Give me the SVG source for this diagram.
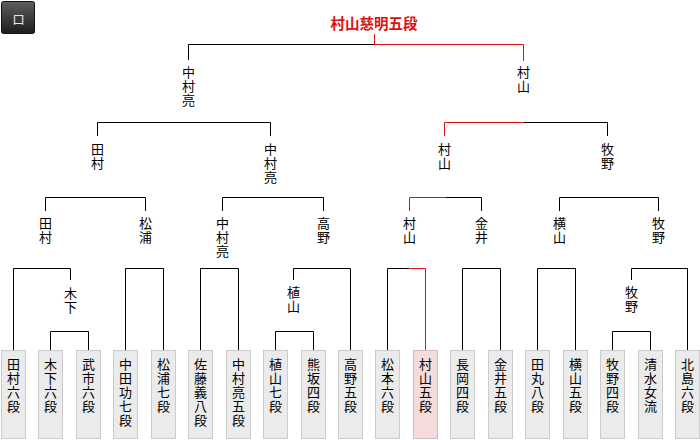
<svg xmlns="http://www.w3.org/2000/svg" width="700" height="440" viewBox="0 0 700 440">
<defs>
<linearGradient id="bg" x1="0" y1="0" x2="0" y2="1">
<stop offset="0" stop-color="#5e5e5e"/>
<stop offset="1" stop-color="#1c1c1c"/>
</linearGradient>
</defs>
<style>
text{font-family:"Noto Sans CJK JP","Noto Sans CJK SC",sans-serif;font-size:13px;fill:#000;text-anchor:middle}
.v{writing-mode:vertical-rl;text-anchor:start;letter-spacing:1px}
.champ{font-size:14.5px;font-weight:bold;fill:#dd1111}
.badge{font-size:13px;fill:#e6e6e6}
.box rect{fill:#ebebeb;stroke:#cccccc;stroke-width:1}
.box.win rect{fill:#f4dcdc;stroke:#ddb9b9}
.ln{fill:none;stroke:#000;stroke-width:1}
.rd{fill:none;stroke:#e01010;stroke-width:1}
</style>
<rect width="700" height="440" fill="#fff"/>
<g id="badge">
<rect x="1.5" y="1.5" width="33" height="32" rx="2" fill="url(#bg)" stroke="#111"/>
<text class="badge" x="18.5" y="23.5">ロ</text>
</g>
<g id="champion"><text class="champ" x="374" y="29">村山慈明五段</text></g>
<g id="connectors">
<path class="ln" d="M188.5 60V44.5H374.5"/>
<path class="rd" d="M374.5 34V44.5H523.5V61"/>
<path class="ln" d="M97.5 136V122.5H270.5V136"/>
<path class="rd" d="M444.5 136V122.5H523.5"/>
<path class="ln" d="M523.5 122.5H607.5V136"/>
<path class="ln" d="M45.5 211V197.5H145.5V211"/>
<path class="ln" d="M222.5 211V197.5H323.5V211"/>
<path class="rd" d="M409.5 211V197.5H445.5"/>
<path class="ln" d="M445.5 197.5H481.5V211"/>
<path class="ln" d="M559.5 211V197.5H658.5V211"/>
<path class="ln" d="M13.5 350V268.5H70.5V280"/>
<path class="ln" d="M125.5 350V268.5H163.5V350"/>
<path class="ln" d="M200.5 350V268.5H238.5V350"/>
<path class="ln" d="M293.5 280V268.5H350.5V350"/>
<path class="ln" d="M387.5 350V268.5H409.5"/>
<path class="rd" d="M409.5 268.5H425.5V350"/>
<path class="ln" d="M462.5 350V268.5H500.5V350"/>
<path class="ln" d="M537.5 350V268.5H575.5V350"/>
<path class="ln" d="M631.5 280V268.5H687.5V350"/>
<path class="ln" d="M50.5 350V331.5H88.5V350"/>
<path class="ln" d="M275.5 350V331.5H313.5V350"/>
<path class="ln" d="M612.5 350V331.5H650.5V350"/>
</g>
<g id="f-nakamura"><text class="v" x="188.5" y="66">中村亮</text></g>
<g id="f-murayama"><text class="v" x="523.5" y="66">村山</text></g>
<g id="s-tamura"><text class="v" x="97.5" y="143">田村</text></g>
<g id="s-nakamura"><text class="v" x="270.5" y="143">中村亮</text></g>
<g id="s-murayama"><text class="v" x="444.5" y="143">村山</text></g>
<g id="s-makino"><text class="v" x="607.5" y="143">牧野</text></g>
<g id="q-tamura"><text class="v" x="45.5" y="217">田村</text></g>
<g id="q-matsuura"><text class="v" x="145.5" y="217">松浦</text></g>
<g id="q-nakamura"><text class="v" x="222.5" y="217">中村亮</text></g>
<g id="q-takano"><text class="v" x="323.5" y="217">高野</text></g>
<g id="q-murayama"><text class="v" x="409.5" y="217">村山</text></g>
<g id="q-kanai"><text class="v" x="481.5" y="217">金井</text></g>
<g id="q-yokoyama"><text class="v" x="559.5" y="217">横山</text></g>
<g id="q-makino"><text class="v" x="658.5" y="217">牧野</text></g>
<g id="r-kinoshita"><text class="v" x="70.5" y="286.5">木下</text></g>
<g id="r-ueyama"><text class="v" x="293.5" y="285.5">植山</text></g>
<g id="r-makino"><text class="v" x="631.5" y="285.5">牧野</text></g>
<g id="p0" class="box"><rect x="1.5" y="350.5" width="24" height="88"/><text class="v" x="13.5" y="357.5">田村六段</text></g>
<g id="p1" class="box"><rect x="38.5" y="350.5" width="24" height="88"/><text class="v" x="50.5" y="357.5">木下六段</text></g>
<g id="p2" class="box"><rect x="76.5" y="350.5" width="24" height="88"/><text class="v" x="88.5" y="357.5">武市六段</text></g>
<g id="p3" class="box"><rect x="113.5" y="350.5" width="24" height="88"/><text class="v" x="125.5" y="357.5">中田功七段</text></g>
<g id="p4" class="box"><rect x="151.5" y="350.5" width="24" height="88"/><text class="v" x="163.5" y="357.5">松浦七段</text></g>
<g id="p5" class="box"><rect x="188.5" y="350.5" width="24" height="88"/><text class="v" x="200.5" y="357.5">佐藤義八段</text></g>
<g id="p6" class="box"><rect x="226.5" y="350.5" width="24" height="88"/><text class="v" x="238.5" y="357.5">中村亮五段</text></g>
<g id="p7" class="box"><rect x="263.5" y="350.5" width="24" height="88"/><text class="v" x="275.5" y="357.5">植山七段</text></g>
<g id="p8" class="box"><rect x="301.5" y="350.5" width="24" height="88"/><text class="v" x="313.5" y="357.5">熊坂四段</text></g>
<g id="p9" class="box"><rect x="338.5" y="350.5" width="24" height="88"/><text class="v" x="350.5" y="357.5">高野五段</text></g>
<g id="p10" class="box"><rect x="375.5" y="350.5" width="24" height="88"/><text class="v" x="387.5" y="357.5">松本六段</text></g>
<g id="p11" class="box win"><rect x="413.5" y="350.5" width="24" height="88"/><text class="v" x="425.5" y="357.5">村山五段</text></g>
<g id="p12" class="box"><rect x="450.5" y="350.5" width="24" height="88"/><text class="v" x="462.5" y="357.5">長岡四段</text></g>
<g id="p13" class="box"><rect x="488.5" y="350.5" width="24" height="88"/><text class="v" x="500.5" y="357.5">金井五段</text></g>
<g id="p14" class="box"><rect x="525.5" y="350.5" width="24" height="88"/><text class="v" x="537.5" y="357.5">田丸八段</text></g>
<g id="p15" class="box"><rect x="563.5" y="350.5" width="24" height="88"/><text class="v" x="575.5" y="357.5">横山五段</text></g>
<g id="p16" class="box"><rect x="600.5" y="350.5" width="24" height="88"/><text class="v" x="612.5" y="357.5">牧野四段</text></g>
<g id="p17" class="box"><rect x="638.5" y="350.5" width="24" height="88"/><text class="v" x="650.5" y="357.5">清水女流</text></g>
<g id="p18" class="box"><rect x="675.5" y="350.5" width="24" height="88"/><text class="v" x="687.5" y="357.5">北島六段</text></g>
</svg>
